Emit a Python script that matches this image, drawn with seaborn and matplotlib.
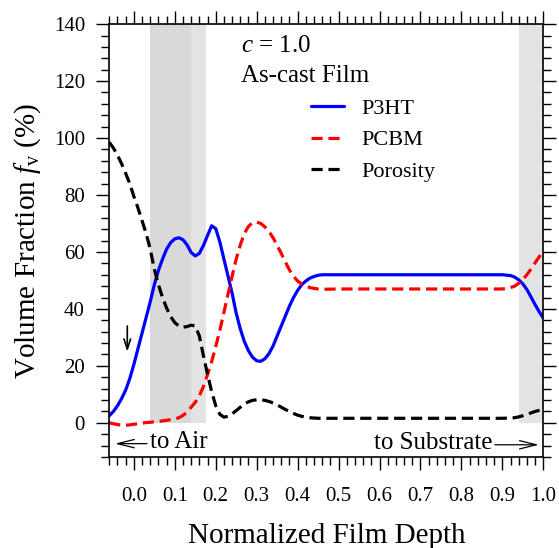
import numpy as np
import pandas as pd
import seaborn as sns
import matplotlib.pyplot as plt
from matplotlib.ticker import MultipleLocator

# normalized film depth grid
depth = [-0.06, -0.05, -0.04, -0.03, -0.02, -0.01, 0.00, 0.01, 0.02, 0.03,
         0.04, 0.05, 0.06, 0.07, 0.08, 0.09, 0.10, 0.11, 0.12, 0.13,
         0.14, 0.15, 0.16, 0.17, 0.18, 0.19, 0.20, 0.21, 0.22, 0.23,
         0.24, 0.25, 0.26, 0.27, 0.28, 0.29, 0.30, 0.31, 0.32, 0.33,
         0.34, 0.35, 0.36, 0.37, 0.38, 0.39, 0.40, 0.41, 0.42, 0.43,
         0.44, 0.45, 0.46, 0.50, 0.60, 0.70, 0.80, 0.90, 0.92, 0.93,
         0.94, 0.95, 0.96, 0.97, 0.98, 0.99, 1.00]

p3ht = [2.5, 4, 6, 8.5, 11.5, 15.5, 20.5, 26, 31.5, 37,
        42.5, 48.5, 53.5, 57.5, 61, 63.3, 64.6, 65, 64.3, 62.5,
        59.8, 58.6, 59.5, 62.3, 65.8, 69.2, 68.2, 63.5, 57.5, 51.5,
        45.5, 38.5, 33, 28.5, 25.3, 23, 21.8, 21.6, 22.5, 24.3,
        27, 30.5, 34, 37.5, 41, 44, 46.5, 48.5, 49.8, 50.8,
        51.4, 51.8, 52, 52, 52, 52, 52, 52, 51.7, 51.2,
        50.2, 48.8, 46.8, 44.2, 41.5, 39, 36.8]

pcbm = [0, -0.3, -0.6, -0.8, -0.8, -0.7, -0.5, -0.3, -0.1, 0.1,
        0.2, 0.4, 0.5, 0.7, 0.9, 1.1, 1.3, 1.8, 2.6, 3.8,
        5.5, 7.2, 9.5, 12.8, 17, 21.5, 26.8, 32.5, 38.8, 45.2,
        51.5, 57.5, 62.5, 66.5, 69, 70.3, 70.5, 70, 68.8, 67.2,
        65, 62.3, 59.5, 56.5, 53.7, 51.5, 49.8, 48.7, 48, 47.5,
        47.2, 47, 46.9, 47, 47, 47, 47, 47, 47.5, 48,
        49, 50.3, 52, 54, 56.2, 58.3, 60.3]

porosity = [98.5, 96.5, 94, 91, 87.6, 84, 79.5, 75.5, 71, 66.5,
            61, 54, 48.5, 44, 40.3, 37.3, 35.2, 34, 33.6, 33.8,
            34.3, 34, 30.5, 23.5, 17, 11, 6, 3, 2, 2.3,
            3.2, 4.3, 5.5, 6.6, 7.4, 7.9, 8.1, 8.1, 7.9, 7.5,
            7, 6.3, 5.5, 4.7, 4, 3.3, 2.7, 2.3, 2, 1.8,
            1.7, 1.6, 1.6, 1.6, 1.6, 1.6, 1.6, 1.6, 1.7, 1.8,
            2.1, 2.5, 3, 3.5, 4, 4.4, 4.8]

df = pd.DataFrame({"depth": depth, "P3HT": p3ht, "PCBM": pcbm, "Porosity": porosity})

sns.set_theme(style="ticks")
plt.rcParams["font.family"] = ["Liberation Serif", "DejaVu Serif"]
plt.rcParams["mathtext.fontset"] = "custom"
plt.rcParams["mathtext.rm"] = "Liberation Serif"
plt.rcParams["mathtext.it"] = "Liberation Serif:italic"
plt.rcParams["text.color"] = "black"
plt.rcParams["axes.labelcolor"] = "black"
plt.rcParams["xtick.color"] = "black"
plt.rcParams["ytick.color"] = "black"
plt.rcParams["axes.edgecolor"] = "black"

fig = plt.figure(figsize=(5.59, 5.48), dpi=100)
ax = fig.add_axes([0.1955, 0.166, 0.7764, 0.790])

# shaded regions
ax.axvspan(0.04, 0.14, ymin=12 / 152, ymax=1, color="#d9d9d9", lw=0, zorder=0)
ax.axvspan(0.14, 0.175, ymin=12 / 152, ymax=1, color="#e3e3e3", lw=0, zorder=0)
ax.axvspan(0.94, 1.0, ymin=12 / 152, ymax=1, color="#e3e3e3", lw=0, zorder=0)

sns.lineplot(data=df, x="depth", y="P3HT", ax=ax, color="#0000ff", lw=2.3, label="P3HT")
sns.lineplot(data=df, x="depth", y="PCBM", ax=ax, color="#ff0000", lw=2.3,
             dashes=(3.5, 1.8), label="PCBM")
sns.lineplot(data=df, x="depth", y="Porosity", ax=ax, color="black", lw=2.3,
             dashes=(3.5, 1.8), label="Porosity")

ax.set_xlim(-0.06, 1.0)
ax.set_ylim(-12, 140)
ax.xaxis.set_minor_locator(MultipleLocator(0.02))
ax.yaxis.set_minor_locator(MultipleLocator(4))
ax.set_xticks(np.arange(0, 1.01, 0.1))
ax.set_xticklabels([f"{v:.1f}" for v in np.arange(0, 1.01, 0.1)])
ax.set_yticks(range(0, 141, 20))
ax.tick_params(which="both", direction="out", top=True, right=True, color="black", width=1)
ax.tick_params(which="major", length=9.5, labelsize=15, labelcolor="black")
ax.tick_params(axis="x", which="major", pad=12)
ax.tick_params(axis="y", which="major", pad=8)
ax.tick_params(which="minor", length=5.5)
for s in ax.spines.values():
    s.set_color("black")
    s.set_linewidth(1.2)

ax.set_xlabel("Normalized Film Depth", fontsize=21, labelpad=12)
ax.set_ylabel(r"Volume Fraction $f_{\mathrm{v}}$ (%)", fontsize=21, labelpad=8)

ax.text(0.262, 130.3, r"$c$ = 1.0", fontsize=18)
ax.text(0.262, 119.8, "As-cast Film", fontsize=18)

ax.legend(loc="upper left", bbox_to_anchor=(0.418, 0.875), frameon=False, fontsize=16,
          handlelength=1.5, handletextpad=0.8, labelspacing=0.5)

# direction annotations
ax.annotate("", xy=(-0.046, -7.3), xytext=(0.032, -7.3),
            arrowprops=dict(arrowstyle="->,head_length=0.8,head_width=0.2",
                            lw=0.9, color="black", mutation_scale=15, shrinkA=0, shrinkB=0))
ax.text(0.039, -8.8, "to Air", fontsize=18)
ax.text(0.877, -9.2, "to Substrate", fontsize=18, ha="right")
ax.annotate("", xy=(0.989, -7.7), xytext=(0.882, -7.7),
            arrowprops=dict(arrowstyle="->,head_length=0.8,head_width=0.2",
                            lw=0.9, color="black", mutation_scale=15, shrinkA=0, shrinkB=0))
ax.annotate("", xy=(-0.016, 25), xytext=(-0.016, 34),
            arrowprops=dict(arrowstyle="->,head_length=0.6,head_width=0.2",
                            lw=1.2, color="black", mutation_scale=12, shrinkA=0, shrinkB=0))

fig.savefig("out.png", dpi=100)
